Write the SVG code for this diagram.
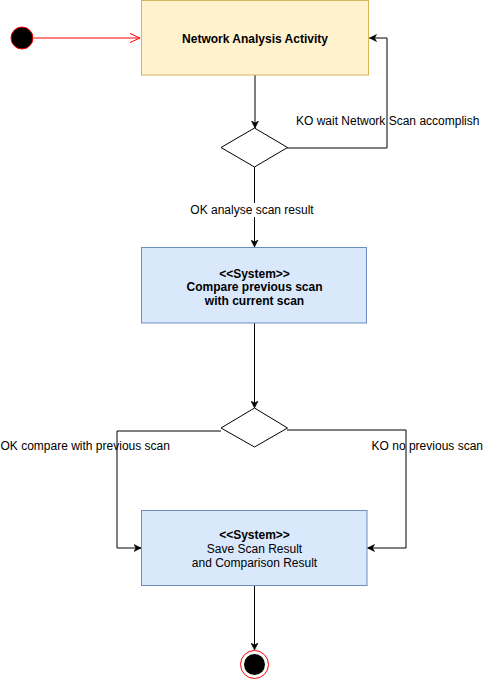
<svg xmlns="http://www.w3.org/2000/svg" width="483" height="681" viewBox="0 0 483 681">
  <style>
    text { font-family: "Liberation Sans", Arial, sans-serif; font-size: 12px; fill: #000; }
    .b { font-weight: bold; }
    .edge { fill: none; stroke: #000; stroke-width: 1; }
    .lbl { text-anchor: middle; }
  </style>
  <defs>
    <marker id="arr" markerWidth="8" markerHeight="8" refX="7" refY="4" orient="auto" markerUnits="userSpaceOnUse">
      <path d="M0,0.5 L7,4 L0,7.5 L2,4 Z" fill="#000" stroke="#000" stroke-width="0.6"/>
    </marker>
    <marker id="open" markerWidth="12" markerHeight="12" refX="11" refY="6" orient="auto" markerUnits="userSpaceOnUse">
      <path d="M1,1.5 L11,6 L1,10.5" fill="none" stroke="#ff0000" stroke-width="1"/>
    </marker>
  </defs>
  <rect width="483" height="681" fill="#fff"/>

  <!-- connectors -->
  <g id="connectors">
    <line x1="34" y1="38" x2="140" y2="38" stroke="#ff0000" stroke-width="1" marker-end="url(#open)"/>
    <path class="edge" d="M255,75 V128" marker-end="url(#arr)"/>
    <path class="edge" d="M287,148 H387 V38 H369.5" marker-end="url(#arr)"/>
    <path class="edge" d="M254.5,167 V247" marker-end="url(#arr)"/>
    <path class="edge" d="M254.5,323 V408" marker-end="url(#arr)"/>
    <path class="edge" d="M221,431 H117 V548 H141" marker-end="url(#arr)"/>
    <path class="edge" d="M287,430 H406 V548 H367.5" marker-end="url(#arr)"/>
    <path class="edge" d="M254.5,585 V650" marker-end="url(#arr)"/>
    <!-- edge labels -->
    <rect x="191" y="203" width="122" height="14" fill="#fff"/>
    <text class="lbl" x="252" y="214">OK analyse scan result</text>
    <text x="296" y="125">KO wait Network Scan accomplish</text>
    <text x="0.5" y="450">OK compare with previous scan</text>
    <text x="483" y="450" text-anchor="end">KO no previous scan</text>
  </g>

  <g id="start">
    <circle cx="22" cy="38" r="11" fill="#000" stroke="#ff0000" stroke-width="1"/>
  </g>

  <g id="network-analysis">
    <rect x="141.5" y="0.5" width="227" height="74.5" fill="#fff2cc" stroke="#d6b656"/>
    <text class="b lbl" x="255" y="43">Network Analysis Activity</text>
  </g>

  <g id="decision-scan">
    <path d="M254.5,128 L287.5,147.5 L254.5,167 L221,147.5 Z" fill="#fff" stroke="#000"/>
  </g>

  <g id="compare">
    <rect x="141.5" y="247.5" width="225" height="75.5" fill="#dae8fc" stroke="#6c8ebf"/>
    <text class="b lbl" x="254.5" y="277.5">&lt;&lt;System&gt;&gt;</text>
    <text class="b lbl" x="254.5" y="290.5">Compare previous scan</text>
    <text class="b lbl" x="254.5" y="304.5">with current scan</text>
  </g>

  <g id="decision-previous">
    <path d="M254.5,408 L287.5,428 L254.5,447 L221,428 Z" fill="#fff" stroke="#000"/>
  </g>

  <g id="save">
    <rect x="141.5" y="510.5" width="225.5" height="75" fill="#dae8fc" stroke="#6c8ebf"/>
    <text class="b lbl" x="254.5" y="539">&lt;&lt;System&gt;&gt;</text>
    <text class="lbl" x="254.5" y="553">Save Scan Result</text>
    <text class="lbl" x="254.5" y="566.5">and Comparison Result</text>
  </g>

  <g id="end">
    <circle cx="254.5" cy="664.5" r="14" fill="#fff" stroke="#ff0000" stroke-width="1"/>
    <circle cx="254.5" cy="664.5" r="10.5" fill="#000"/>
  </g>
</svg>
